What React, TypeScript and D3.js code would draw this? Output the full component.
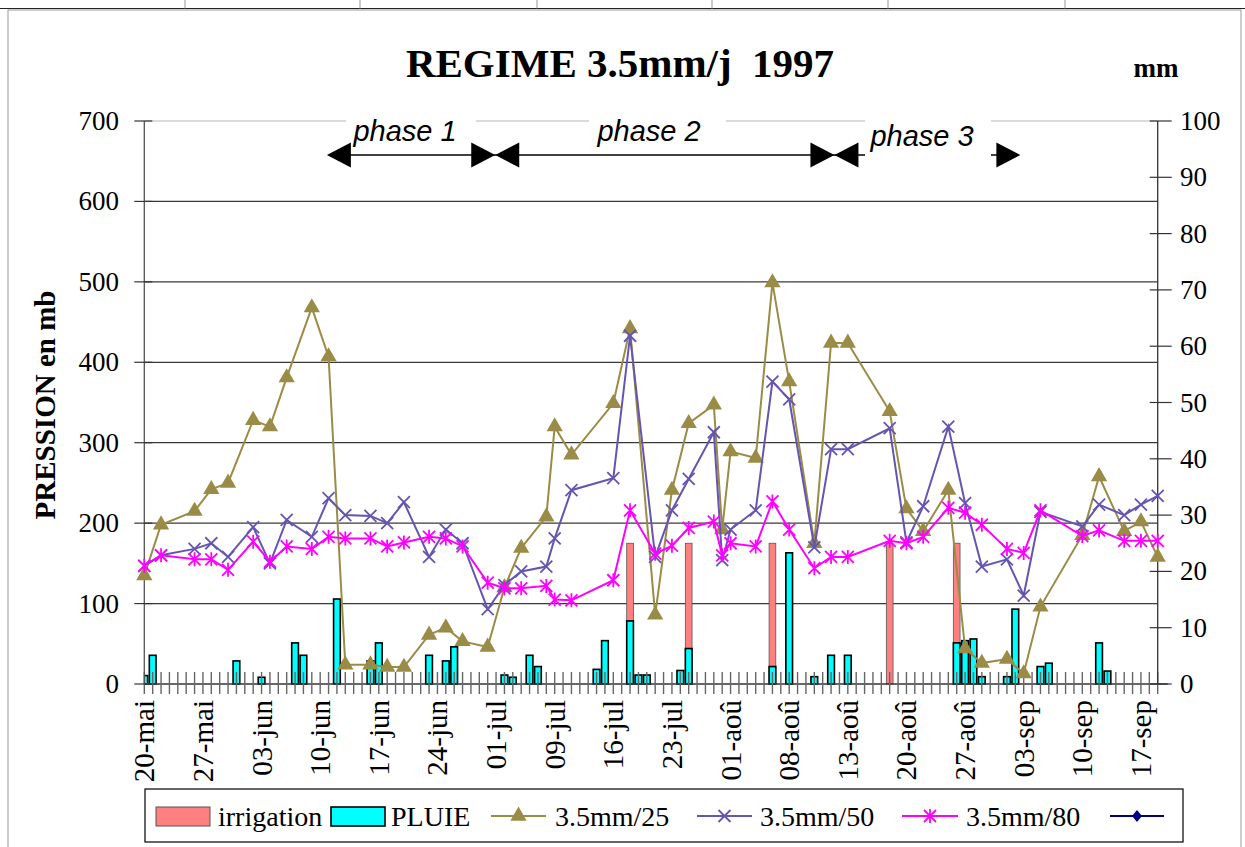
import React from 'react';
import * as d3 from 'd3';

const W = 1245;
const H = 847;

// category axis: one category per observation row
const N_CAT = 122;
const LABEL_STEP = 7;
const TICK_LABELS = [
  '20-mai', '27-mai', '03-jun', '10-jun', '17-jun', '24-jun', '01-jul', '09-jul', '16-jul',
  '23-jul', '01-aoû', '08-aoû', '13-aoû', '20-aoû', '27-aoû', '03-sep', '10-sep', '17-sep',
];

// category indices of tensiometer readings
const OBS_IDX = [0, 2, 6, 8, 10, 13, 15, 17, 20, 22, 24, 27, 29, 31, 34, 36, 38, 41, 43, 45, 48, 49, 51, 56, 58, 61, 63, 65, 68, 69, 70, 73, 75, 77, 80, 82, 84, 89, 91, 93, 96, 98, 100, 103, 105, 107, 112, 114, 117, 119, 121];

const S25 = [135, 198, 215, 242, 250, 328, 320, 381, 468, 407, 24, 24, 21, 21, 61, 70, 53, 46, 120, 169, 208, 320, 285, 349, 442, 86, 241, 324, 347, 192, 289, 281, 499, 376, 175, 424, 424, 339, 218, 190, 241, 44, 26, 31, 13, 96, 185, 258, 190, 202, 158];
const S50 = [147, 160, 168, 175, 158, 195, 150, 204, 183, 231, 210, 209, 200, 226, 158, 192, 175, 93, 123, 140, 146, 181, 241, 256, 433, 158, 216, 255, 313, 154, 192, 216, 376, 354, 170, 292, 292, 318, 176, 221, 320, 225, 146, 155, 110, 214, 196, 223, 210, 223, 234];
const S80 = [147, 160, 155, 155, 142, 177, 152, 171, 168, 183, 181, 181, 171, 176, 183, 181, 171, 126, 119, 119, 122, 105, 104, 129, 216, 162, 172, 194, 202, 160, 175, 171, 227, 192, 144, 158, 158, 178, 175, 183, 219, 213, 198, 168, 163, 216, 184, 191, 178, 178, 178];

const PLUIE_IDX = [0, 1, 11, 14, 18, 19, 23, 27, 28, 34, 36, 37, 43, 44, 46, 47, 54, 55, 58, 59, 60, 64, 65, 75, 77, 80, 82, 84, 97, 98, 99, 100, 103, 104, 107, 108, 114, 115];
const PLUIE_MM = [1.5, 5.1, 4.1, 1.2, 7.3, 5.1, 15.1, 4.1, 7.3, 5.1, 4.1, 6.6, 1.6, 1.2, 5.1, 3.1, 2.6, 7.7, 11.2, 1.6, 1.6, 2.4, 6.3, 3.1, 23.3, 1.3, 5.1, 5.1, 7.3, 7.7, 8.0, 1.3, 1.3, 13.3, 3.1, 3.7, 7.3, 2.3];

const IRRIG_IDX = [58, 65, 75, 89, 97];
const IRRIG_MM = [25, 25, 25, 25, 25];

const LEFT_TICKS = [0, 100, 200, 300, 400, 500, 600, 700];
const RIGHT_TICKS = [0, 10, 20, 30, 40, 50, 60, 70, 80, 90, 100];

// phase boundaries in category units
const PHASE_BOUNDS = [21.8, 41.9, 82.4, 104.6];
const PHASE_LABELS = ['phase 1', 'phase 2', 'phase 3'];

const C25 = '#9a8c46';
const C50 = '#6655b0';
const C80 = '#ff00ff';
const CPLUIE = '#00ffff';
const CIRR = '#ff8080';
const CNAVY = '#000080';

const SERIF = "'Liberation Serif', 'Times New Roman', serif";
const SANS = "'Liberation Sans', Arial, sans-serif";

const triPath = d3.symbol(d3.symbolTriangle, 115)() as string;
const xPath = 'M-6,-6L6,6M-6,6L6,-6';
const starPath = 'M-6,-6L6,6M-6,6L6,-6M0,-7L0,7';
const diamondPath = 'M0,-6L5,0L0,6L-5,0Z';

function Arrow({ x, y, dir }: { x: number; y: number; dir: 1 | -1 }) {
  // tip at x, pointing dir (1 = right)
  const L = 24, h = 12.5;
  return <path d={`M${x},${y}L${x - dir * L},${y - h}L${x - dir * L},${y + h}Z`} fill="#000" />;
}

export default function App() {
  const x = d3.scaleLinear().domain([0, N_CAT - 1]).range([144.3, 1157.7]);
  const yL = d3.scaleLinear().domain([0, 700]).range([684, 121]);
  const yR = d3.scaleLinear().domain([0, 100]).range([684, 121]);
  const step = x(1) - x(0);
  const barW = step * 0.8;
  const cats = d3.range(N_CAT);

  const lineGen = d3
    .line<number>()
    .x((_, i) => x(OBS_IDX[i]))
    .y((v) => yL(v));

  const series = [
    { vals: S25, color: C25, marker: 'tri' },
    { vals: S50, color: C50, marker: 'x' },
    { vals: S80, color: C80, marker: 'star' },
  ];

  const marker = (kind: string, color: string, cx: number, cy: number, key: any) => {
    if (kind === 'tri') return <path key={key} d={triPath} transform={`translate(${cx},${cy})`} fill={color} />;
    if (kind === 'x') return <path key={key} d={xPath} transform={`translate(${cx},${cy})`} stroke={color} strokeWidth={1.8} fill="none" />;
    return <path key={key} d={starPath} transform={`translate(${cx},${cy})`} stroke={color} strokeWidth={1.8} fill="none" />;
  };

  const phaseX = PHASE_BOUNDS.map((b) => x(b));
  const arrowY = 155;
  const axisY = yL(0);
  const plotLeft = x(0);
  const plotRight = x(N_CAT - 1);

  const sheetCols = [185, 360, 537, 712, 888, 1065];

  const legendY = 816;

  return (
    <svg width={W} height={H} style={{ position: 'absolute', left: 0, top: 0, background: '#fff' }}>
      <rect x={0} y={0} width={W} height={H} fill="#fff" />
      {/* spreadsheet cells at top */}
      <line x1={0} x2={W} y1={8.5} y2={8.5} stroke="#222" strokeWidth={1.2} />
      {sheetCols.map((c) => (
        <line key={c} x1={c} x2={c} y1={0} y2={8.5} stroke="#999" strokeWidth={1} />
      ))}
      {/* chart border */}
      <rect x={8} y={10} width={1233} height={H} fill="none" stroke="#9a9a9a" strokeWidth={1} />

      {/* title */}
      <text x={620} y={77} textAnchor="middle" fontFamily={SERIF} fontWeight="bold" fontSize={41} style={{ whiteSpace: 'pre' }}>
        REGIME 3.5mm/j  1997
      </text>
      <text x={1156} y={77} textAnchor="middle" fontFamily={SERIF} fontWeight="bold" fontSize={27}>
        mm
      </text>

      {/* gridlines */}
      {LEFT_TICKS.filter((t) => t > 0).map((t) => (
        <line key={t} x1={plotLeft} x2={plotRight} y1={yL(t)} y2={yL(t)} stroke={t === 700 ? '#cfcfcf' : '#3a3a3a'} strokeWidth={t === 700 ? 1.6 : 1.3} />
      ))}

      {/* phase annotations */}
      <rect x={346} y={113} width={130} height={36} fill="#fff" />
      <rect x={589} y={113} width={137} height={36} fill="#fff" />
      <line x1={phaseX[0] + 20} x2={phaseX[3] - 20} y1={arrowY} y2={arrowY} stroke="#000" strokeWidth={1.3} />
      <rect x={865} y={113} width={126} height={50} fill="#fff" />
      <Arrow x={phaseX[0]} y={arrowY} dir={-1} />
      <Arrow x={phaseX[1]} y={arrowY} dir={1} />
      <Arrow x={phaseX[1]} y={arrowY} dir={-1} />
      <Arrow x={phaseX[2]} y={arrowY} dir={1} />
      <Arrow x={phaseX[2]} y={arrowY} dir={-1} />
      <Arrow x={phaseX[3]} y={arrowY} dir={1} />
      {PHASE_LABELS.map((p, i) => (
        <text
          key={p}
          x={[405, 649, 922][i]}
          y={[141, 141, 146][i]}
          textAnchor="middle"
          fontFamily={SANS}
          fontStyle="italic"
          fontSize={29}
        >
          {p}
        </text>
      ))}

      {/* bars */}
      <defs>
        <clipPath id="plotclip">
          <rect x={plotLeft} y={100} width={plotRight - plotLeft + 10} height={600} />
        </clipPath>
      </defs>
      <g clipPath="url(#plotclip)">
        {IRRIG_IDX.map((c, i) => (
          <rect key={'ir' + c} x={x(c) - barW / 2} y={yR(IRRIG_MM[i])} width={barW} height={axisY - yR(IRRIG_MM[i])} fill={CIRR} stroke="#555" strokeWidth={0.8} />
        ))}
        {PLUIE_IDX.map((c, i) => (
          <rect key={'pl' + c} x={x(c) - barW / 2} y={yR(PLUIE_MM[i])} width={barW} height={axisY - yR(PLUIE_MM[i])} fill={CPLUIE} stroke="#000" strokeWidth={1.6} />
        ))}
      </g>

      {/* x axis */}
      <line x1={plotLeft} x2={plotRight + 10} y1={axisY} y2={axisY} stroke="#333" strokeWidth={1.3} />
      {cats.map((c) => (
        <line key={'t' + c} x1={x(c)} x2={x(c)} y1={axisY - 12} y2={axisY + 10} stroke="#666" strokeWidth={1.4} />
      ))}
      {TICK_LABELS.map((lab, i) => (
        <text
          key={lab}
          transform={`translate(${x(i * LABEL_STEP)},${axisY + 16}) rotate(-90)`}
          textAnchor="end"
          dominantBaseline="central"
          fontFamily={SERIF}
          fontSize={29}
        >
          {lab}
        </text>
      ))}

      {/* left axis */}
      <line x1={plotLeft} x2={plotLeft} y1={yL(700)} y2={axisY} stroke="#555" strokeWidth={1.3} />
      {LEFT_TICKS.map((t) => (
        <g key={'l' + t}>
          <line x1={plotLeft - 10} x2={plotLeft + 8} y1={yL(t)} y2={yL(t)} stroke="#333" strokeWidth={1.2} />
          <text x={119} y={yL(t)} textAnchor="end" dominantBaseline="central" fontFamily={SERIF} fontSize={27}>
            {t}
          </text>
        </g>
      ))}
      <text transform={`translate(45,405) rotate(-90)`} textAnchor="middle" dominantBaseline="central" fontFamily={SERIF} fontWeight="bold" fontSize={29}>
        PRESSION en mb
      </text>

      {/* right axis */}
      <line x1={plotRight} x2={plotRight} y1={yR(100)} y2={axisY} stroke="#333" strokeWidth={1.3} />
      {RIGHT_TICKS.map((t) => (
        <g key={'r' + t}>
          <line x1={plotRight - 8} x2={plotRight + 14} y1={yR(t)} y2={yR(t)} stroke="#333" strokeWidth={1.2} />
          <text x={1180} y={yR(t)} textAnchor="start" dominantBaseline="central" fontFamily={SERIF} fontSize={27}>
            {t}
          </text>
        </g>
      ))}

      {/* lines */}
      {series.map((s, si) => (
        <g key={'s' + si}>
          <path d={lineGen(s.vals) as string} fill="none" stroke={s.color} strokeWidth={2} />
          {s.vals.map((v, i) => marker(s.marker, s.color, x(OBS_IDX[i]), yL(v), i))}
        </g>
      ))}

      {/* legend */}
      <rect x={145} y={789} width={1038} height={53} fill="#fff" stroke="#000" strokeWidth={1.2} />
      <rect x={156} y={807} width={54} height={19} fill={CIRR} stroke="#555" strokeWidth={1} />
      <text x={218} y={legendY} dominantBaseline="central" fontFamily={SERIF} fontSize={28}>irrigation</text>
      <rect x={331} y={807} width={54} height={19} fill={CPLUIE} stroke="#000" strokeWidth={1.6} />
      <text x={391} y={legendY} dominantBaseline="central" fontFamily={SERIF} fontSize={28}>PLUIE</text>
      <line x1={491} x2={546} y1={legendY} y2={legendY} stroke={C25} strokeWidth={2} />
      {marker('tri', C25, 518.5, legendY, 'lg25')}
      <text x={555} y={legendY} dominantBaseline="central" fontFamily={SERIF} fontSize={28}>3.5mm/25</text>
      <line x1={697} x2={752} y1={legendY} y2={legendY} stroke={C50} strokeWidth={2} />
      {marker('x', C50, 724.5, legendY, 'lg50')}
      <text x={760} y={legendY} dominantBaseline="central" fontFamily={SERIF} fontSize={28}>3.5mm/50</text>
      <line x1={902} x2={958} y1={legendY} y2={legendY} stroke={C80} strokeWidth={2} />
      {marker('star', C80, 930, legendY, 'lg80')}
      <text x={966} y={legendY} dominantBaseline="central" fontFamily={SERIF} fontSize={28}>3.5mm/80</text>
      <line x1={1110} x2={1164} y1={legendY} y2={legendY} stroke={CNAVY} strokeWidth={2} />
      <path d={diamondPath} transform={`translate(1137,${legendY})`} fill={CNAVY} />
    </svg>
  );
}
